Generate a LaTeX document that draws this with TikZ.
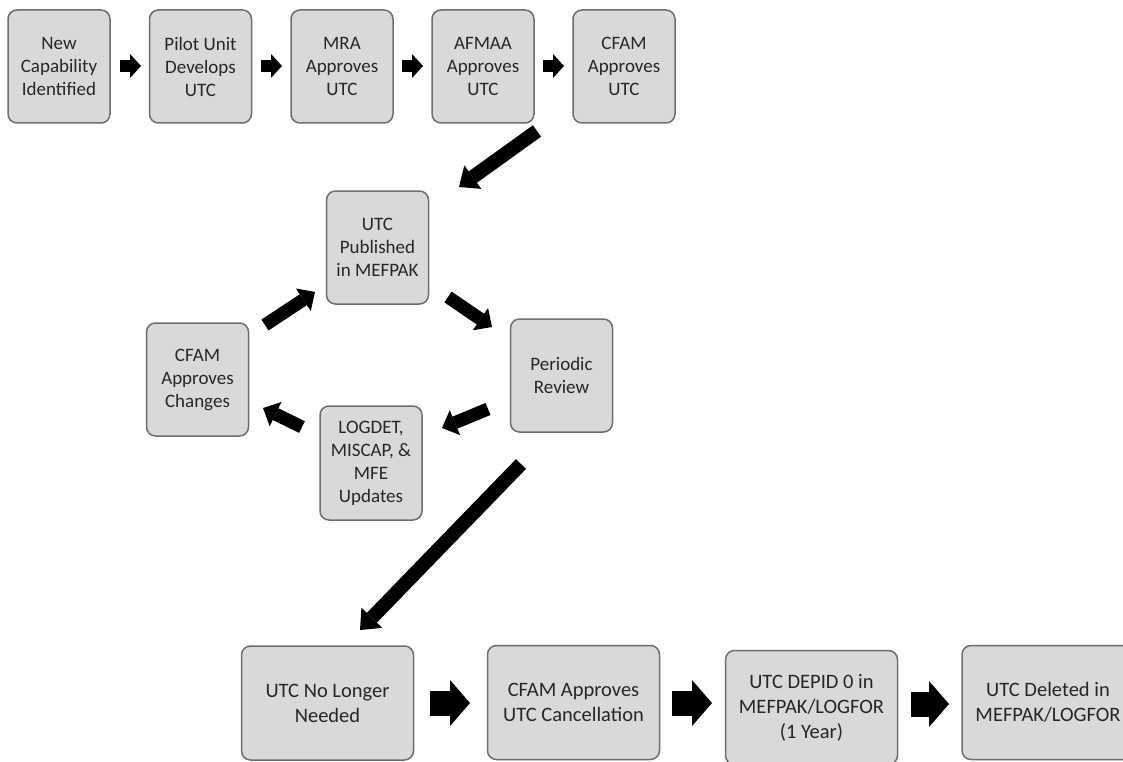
\documentclass[tikz,border=0pt]{standalone}
\usepackage{fontspec}
\setmainfont{Carlito}
\usetikzlibrary{arrows.meta}
\definecolor{boxgray}{HTML}{D9D9D9}
\definecolor{bordergray}{HTML}{6E6E6E}
\definecolor{textgray}{HTML}{262626}
\tikzset{
  box/.style={draw=bordergray, fill=boxgray, rounded corners=9pt, line width=1.5pt,
    align=center, inner sep=0pt, text=textgray, minimum width=102pt, minimum height=113pt,
    font=\fontsize{19}{23}\selectfont},
  widebox/.style={box, minimum width=172pt, minimum height=114pt,
    font=\fontsize{20.5}{25}\selectfont},
  smallarrow/.style={draw=black, line width=12pt, -{Triangle[length=11pt,width=24pt,line width=0pt]}},
  midarrow/.style={draw=black, line width=13pt, -{Triangle[length=14pt,width=27pt,line width=0pt]}},
  longarrow/.style={draw=black, line width=14pt, -{Triangle[length=17pt,width=29pt,line width=0pt]}},
  bigarrow/.style={draw=black, line width=25pt, -{Triangle[length=20pt,width=46pt,line width=0pt]}}
}
\begin{document}
\begin{tikzpicture}[x=1pt,y=-1pt]
\useasboundingbox (0,0) rectangle (1123,762);
% top row
\node[box] (b1) at (59,66.5) {New\\Capability\\Identified};
\node[box] (b2) at (200.5,66.5) {Pilot Unit\\Develops\\UTC};
\node[box] (b3) at (342,66.5) {MRA\\Approves\\UTC};
\node[box] (b4) at (483,66.5) {AFMAA\\Approves\\UTC};
\node[box] (b5) at (624,66.5) {CFAM\\Approves\\UTC};
% cycle
\node[box] (pub) at (377.5,247.5) {UTC\\Published\\in MEFPAK};
\node[box] (rev) at (561.5,375.5) {Periodic\\Review};
\node[box] (chg) at (197.5,379.5) {CFAM\\Approves\\Changes};
\node[box, minimum height=114pt] (upd) at (371,463) {LOGDET,\\MISCAP, \&\\MFE\\Updates};
% bottom row
\node[widebox] (n1) at (327.5,703) {UTC No Longer\\Needed};
\node[widebox] (n2) at (573.5,702.5) {CFAM Approves\\UTC Cancellation};
\node[widebox] (n3) at (811.5,707.5) {UTC DEPID 0 in\\MEFPAK/LOGFOR\\(1 Year)};
\node[widebox] (n4) at (1048,702.5) {UTC Deleted in\\MEFPAK/LOGFOR};
% arrow end points
\coordinate (a1s) at (120,66); \coordinate (a1e) at (141,66);
\coordinate (a2s) at (261,66); \coordinate (a2e) at (282,66);
\coordinate (a3s) at (402,66); \coordinate (a3e) at (423,66);
\coordinate (a4s) at (543,66); \coordinate (a4e) at (564,66);
\coordinate (l1s) at (537,131); \coordinate (l1e) at (459,187);
\coordinate (m1s) at (448,297); \coordinate (m1e) at (492,327);
\coordinate (m2s) at (488,409); \coordinate (m2e) at (442,428);
\coordinate (m3s) at (302,427); \coordinate (m3e) at (263,408);
\coordinate (m4s) at (265,325); \coordinate (m4e) at (315,292);
\coordinate (l2s) at (521,464); \coordinate (l2e) at (360,630);
\coordinate (c1s) at (430,703); \coordinate (c1e) at (470,703);
\coordinate (c2s) at (672,703); \coordinate (c2e) at (712,703);
\coordinate (c3s) at (911,704); \coordinate (c3e) at (949,704);
% arrows
\draw[smallarrow] (a1s) -- (a1e);
\draw[smallarrow] (a2s) -- (a2e);
\draw[smallarrow] (a3s) -- (a3e);
\draw[smallarrow] (a4s) -- (a4e);
\draw[longarrow] (l1s) -- (l1e);
\draw[midarrow] (m1s) -- (m1e);
\draw[midarrow] (m2s) -- (m2e);
\draw[midarrow] (m3s) -- (m3e);
\draw[midarrow] (m4s) -- (m4e);
\draw[longarrow] (l2s) -- (l2e);
\draw[bigarrow] (c1s) -- (c1e);
\draw[bigarrow] (c2s) -- (c2e);
\draw[bigarrow] (c3s) -- (c3e);
\end{tikzpicture}
\end{document}
